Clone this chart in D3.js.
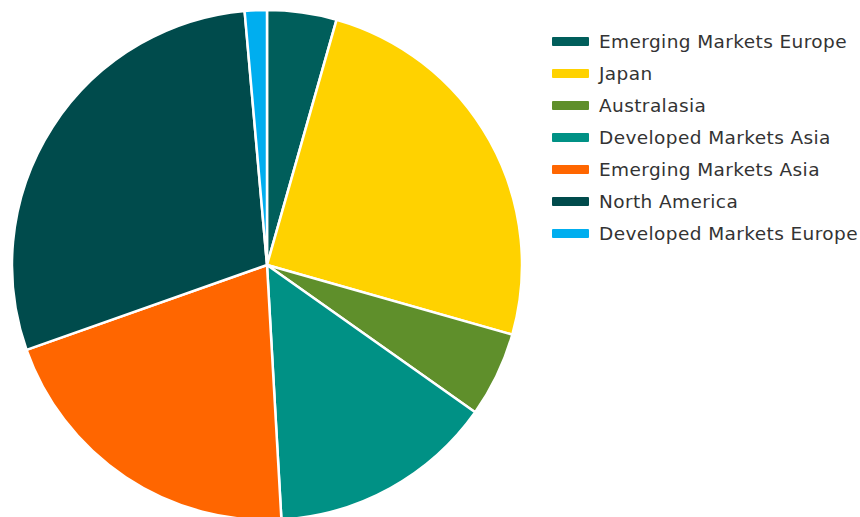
<!DOCTYPE html>
<html>
<head>
<meta charset="utf-8">
<script src="https://cdn.jsdelivr.net/npm/d3@7"></script>
<style>
  html, body { margin: 0; padding: 0; background: #fff; }
  svg { display: block; }
</style>
</head>
<body>
<svg id="chart" width="860" height="517"></svg>
<script>
const categories = ["Emerging Markets Europe", "Japan", "Australasia", "Developed Markets Asia", "Emerging Markets Asia", "North America", "Developed Markets Europe"];
const values = [4.4, 25.0, 5.4, 14.3, 20.5, 29.0, 1.4];
const colors = ["#005e5b", "#ffd200", "#5f8f2b", "#009185", "#ff6600", "#004b4c", "#00aeef"];

const svg = d3.select("#chart");
const cx = 267, cy = 265, r = 255;

const data = categories.map((c, i) => ({ name: c, value: values[i], color: colors[i] }));
const pie = d3.pie().sort(null).value(d => d.value);
const arc = d3.arc().innerRadius(0).outerRadius(r);

const g = svg.append("g").attr("transform", `translate(${cx},${cy})`);
g.selectAll("path")
  .data(pie(data))
  .join("path")
  .attr("d", arc)
  .attr("fill", d => d.data.color)
  .attr("stroke", "#fff")
  .attr("stroke-width", 2.5)
  .attr("stroke-linejoin", "round");

const legend = svg.append("g").attr("transform", "translate(552,41.5)");
const rows = legend.selectAll("g")
  .data(data)
  .join("g")
  .attr("transform", (d, i) => `translate(0,${i * 32})`);
rows.append("rect")
  .attr("x", 0).attr("y", -4.5)
  .attr("width", 37).attr("height", 9)
  .attr("rx", 1)
  .attr("fill", d => d.color);
rows.append("text")
  .attr("x", 47).attr("y", 0)
  .attr("dy", "0.35em")
  .attr("font-family", "DejaVu Sans, sans-serif")
  .attr("font-size", 18.5)
  .attr("letter-spacing", 0.4)
  .attr("fill", "#333")
  .text(d => d.name);
</script>
</body>
</html>
